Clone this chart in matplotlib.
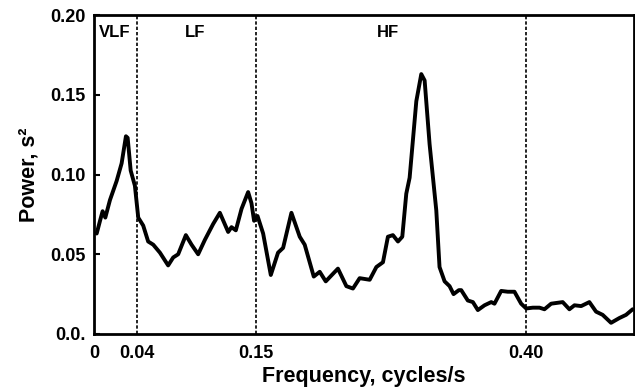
import matplotlib
matplotlib.use('Agg')
import matplotlib.pyplot as plt

plt.rcParams['font.family'] = ['Liberation Sans', 'DejaVu Sans']
plt.rcParams['font.weight'] = 'bold'

# -----------------------------
# HRV power spectrum
# -----------------------------

freq = [0.0025, 0.0056, 0.0080, 0.0105, 0.0148, 0.0210, 0.0256, 0.0296, 0.0312,
        0.0340, 0.0379, 0.0410, 0.0456, 0.0502, 0.0549, 0.0611, 0.0687, 0.0734,
        0.0780, 0.0851, 0.0904, 0.0965, 0.1027, 0.1104, 0.1166, 0.1243, 0.1274,
        0.1314, 0.1367, 0.1428, 0.1459, 0.1483, 0.1515, 0.1567, 0.1638, 0.1705,
        0.1752, 0.1829, 0.1906, 0.1952, 0.2036, 0.2091, 0.2147, 0.2260, 0.2338,
        0.2399, 0.2461, 0.2554, 0.2616, 0.2677, 0.2723, 0.2769, 0.2816, 0.2856,
        0.2893, 0.2924, 0.2986, 0.3032, 0.3063, 0.3109, 0.3171, 0.3201, 0.3248,
        0.3294, 0.3331, 0.3380, 0.3402, 0.3463, 0.3510, 0.3556, 0.3618, 0.3680,
        0.3710, 0.3772, 0.3833, 0.3895, 0.3957, 0.4004, 0.4065, 0.4127, 0.4173,
        0.4235, 0.4342, 0.4404, 0.4451, 0.4513, 0.4589, 0.4651, 0.4712, 0.4790,
        0.4867, 0.4929, 0.4990]

power = [0.063, 0.071, 0.077, 0.073, 0.084, 0.096, 0.107, 0.124, 0.123,
         0.1025, 0.093, 0.073, 0.068, 0.058, 0.056, 0.051, 0.043, 0.048,
         0.050, 0.062, 0.056, 0.050, 0.059, 0.069, 0.076, 0.064, 0.067,
         0.065, 0.0785, 0.089, 0.082, 0.071, 0.074, 0.063, 0.037, 0.051,
         0.054, 0.076, 0.061, 0.056, 0.036, 0.039, 0.033, 0.041, 0.030,
         0.0285, 0.035, 0.034, 0.042, 0.045, 0.061, 0.062, 0.058, 0.061,
         0.088, 0.098, 0.146, 0.163, 0.159, 0.119, 0.0775, 0.042, 0.033,
         0.030, 0.025, 0.0275, 0.0275, 0.021, 0.020, 0.015, 0.018, 0.020,
         0.019, 0.027, 0.0265, 0.0265, 0.019, 0.016, 0.0165, 0.0165, 0.0155,
         0.019, 0.020, 0.0155, 0.018, 0.0175, 0.020, 0.014, 0.012, 0.007,
         0.010, 0.012, 0.0155]

band_edges = [0.04, 0.15, 0.40]
band_names = ['VLF', 'LF', 'HF']
band_label_x = [0.019, 0.094, 0.272]

xtick_vals = [0, 0.04, 0.15, 0.40]
xtick_labels = ['0', '0.04', '0.15', '0.40']
ytick_vals = [0.0, 0.05, 0.10, 0.15, 0.20]
ytick_labels = ['0.0.', '0.05', '0.10', '0.15', '0.20']

fig = plt.figure(figsize=(6.35, 3.87), dpi=100)
ax = fig.add_axes([0.148, 0.137, 0.850, 0.824])

ax.plot(freq, power, color='black', linewidth=2.8, solid_joinstyle='round',
        solid_capstyle='round')

# band boundaries
for xb in band_edges:
    ax.axvline(xb, color='black', linewidth=1.2, linestyle=(0, (2.0, 1.2)))

for name, xl in zip(band_names, band_label_x):
    ax.text(xl, 0.189, name, ha='center', va='center', fontsize=12,
            fontweight='bold')

ax.set_xlim(0, 0.5)
ax.set_ylim(0, 0.2)

ax.set_xticks(xtick_vals)
ax.set_xticklabels(xtick_labels)
ax.set_yticks(ytick_vals)
ax.set_yticklabels(ytick_labels)

ax.tick_params(axis='x', length=0, pad=8, labelsize=13)
ax.tick_params(axis='y', direction='in', length=4, width=1.5, pad=6,
               labelsize=13)

for side in ['left', 'bottom', 'top', 'right']:
    ax.spines[side].set_linewidth(2.0)

ax.set_xlabel('Frequency, cycles/s', fontsize=15.5, fontweight='bold', labelpad=3)
ax.set_ylabel('Power, s²', fontsize=15.5, fontweight='bold', labelpad=8)

plt.savefig('out.png', dpi=100)
